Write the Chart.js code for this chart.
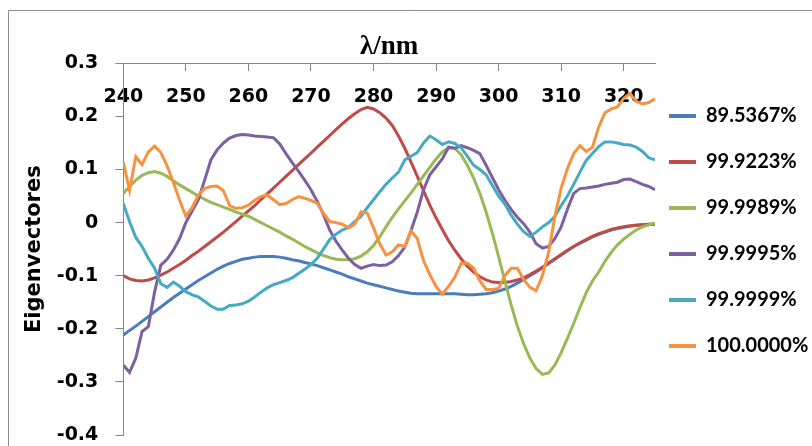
<!DOCTYPE html>
<html>
<head>
<meta charset="utf-8">
<script src="https://cdn.jsdelivr.net/npm/chart.js@4.4.1/dist/chart.umd.min.js"></script>
<style>
html,body{margin:0;padding:0;background:#fff;}
canvas{display:block;}
</style>
</head>
<body>
<canvas id="c" width="812" height="446"></canvas>
<script>
const wavelengths = [
  240,241,242,243,244,245,246,247,248,249,
  250,251,252,253,254,255,256,257,258,259,
  260,261,262,263,264,265,266,267,268,269,
  270,271,272,273,274,275,276,277,278,279,
  280,281,282,283,284,285,286,287,288,289,
  290,291,292,293,294,295,296,297,298,299,
  300,301,302,303,304,305,306,307,308,309,
  310,311,312,313,314,315,316,317,318,319,
  320,321,322,323,324,325
];

const seriesLabels = ['89.5367%', '99.9223%', '99.9989%', '99.9995%', '99.9999%', '100.0000%'];

const ev895367 = [
  -0.212,-0.203,-0.195,-0.186,-0.177,-0.168,-0.159,-0.150,-0.141,-0.133,
  -0.125,-0.117,-0.109,-0.102,-0.095,-0.088,-0.082,-0.077,-0.073,-0.069,
  -0.067,-0.065,-0.064,-0.064,-0.064,-0.065,-0.067,-0.070,-0.072,-0.075,
  -0.078,-0.081,-0.085,-0.089,-0.093,-0.097,-0.102,-0.106,-0.110,-0.114,
  -0.117,-0.120,-0.123,-0.126,-0.129,-0.131,-0.133,-0.134,-0.134,-0.134,
  -0.134,-0.134,-0.134,-0.134,-0.135,-0.136,-0.136,-0.135,-0.134,-0.132,
  -0.129,-0.125,-0.120,-0.114,-0.107,-0.100,-0.093,-0.085,-0.077,-0.069,
  -0.061,-0.053,-0.045,-0.039,-0.033,-0.027,-0.022,-0.018,-0.014,-0.011,
  -0.009,-0.007,-0.005,-0.004,-0.003,-0.003
];

const ev999223 = [
  -0.100,-0.106,-0.109,-0.110,-0.108,-0.104,-0.099,-0.093,-0.086,-0.079,
  -0.071,-0.062,-0.054,-0.045,-0.036,-0.027,-0.018,-0.008,0.002,0.012,
  0.022,0.032,0.043,0.054,0.065,0.076,0.087,0.098,0.109,0.120,
  0.131,0.142,0.153,0.164,0.175,0.186,0.196,0.205,0.213,0.217,
  0.214,0.207,0.197,0.183,0.163,0.140,0.114,0.087,0.060,0.033,
  0.009,-0.013,-0.034,-0.052,-0.068,-0.082,-0.093,-0.102,-0.108,-0.112,
  -0.113,-0.113,-0.111,-0.108,-0.104,-0.098,-0.091,-0.084,-0.076,-0.068,
  -0.060,-0.052,-0.045,-0.038,-0.032,-0.026,-0.021,-0.017,-0.013,-0.010,
  -0.008,-0.006,-0.005,-0.004,-0.003,-0.003
];

const ev999989 = [
  0.055,0.068,0.080,0.089,0.094,0.096,0.093,0.087,0.079,0.071,
  0.064,0.057,0.050,0.044,0.038,0.034,0.029,0.025,0.020,0.016,
  0.012,0.006,0.000,-0.006,-0.012,-0.018,-0.025,-0.031,-0.038,-0.045,
  -0.051,-0.057,-0.062,-0.066,-0.069,-0.070,-0.070,-0.068,-0.063,-0.055,
  -0.043,-0.027,-0.008,0.010,0.026,0.041,0.056,0.072,0.088,0.104,
  0.120,0.133,0.141,0.140,0.128,0.108,0.084,0.055,0.020,-0.020,
  -0.064,-0.110,-0.155,-0.195,-0.228,-0.255,-0.275,-0.286,-0.283,-0.268,
  -0.245,-0.218,-0.190,-0.160,-0.132,-0.110,-0.093,-0.073,-0.056,-0.042,
  -0.031,-0.022,-0.014,-0.008,-0.004,-0.001
];

const ev999995 = [
  -0.268,-0.282,-0.255,-0.205,-0.196,-0.131,-0.080,-0.069,-0.052,-0.030,
  0.000,0.022,0.043,0.080,0.118,0.137,0.150,0.159,0.164,0.166,
  0.165,0.163,0.162,0.161,0.160,0.148,0.130,0.113,0.097,0.080,
  0.062,0.040,0.015,-0.014,-0.035,-0.052,-0.067,-0.079,-0.086,-0.082,
  -0.079,-0.081,-0.080,-0.074,-0.062,-0.046,-0.015,0.020,0.062,0.090,
  0.105,0.120,0.142,0.140,0.145,0.141,0.136,0.130,0.108,0.085,
  0.062,0.042,0.025,0.010,-0.002,-0.018,-0.040,-0.048,-0.045,-0.030,
  -0.008,0.025,0.055,0.064,0.065,0.067,0.069,0.072,0.074,0.076,
  0.081,0.082,0.077,0.072,0.068,0.062
];

const ev999999 = [
  0.036,0.002,-0.028,-0.045,-0.067,-0.086,-0.115,-0.122,-0.112,-0.120,
  -0.130,-0.136,-0.140,-0.148,-0.157,-0.163,-0.163,-0.156,-0.155,-0.153,
  -0.148,-0.140,-0.131,-0.123,-0.117,-0.113,-0.109,-0.104,-0.096,-0.088,
  -0.079,-0.067,-0.050,-0.032,-0.022,-0.014,-0.009,0.002,0.012,0.028,
  0.043,0.058,0.072,0.084,0.095,0.118,0.125,0.132,0.150,0.163,
  0.156,0.147,0.152,0.149,0.141,0.125,0.108,0.100,0.090,0.070,
  0.050,0.035,0.014,-0.003,-0.017,-0.026,-0.018,-0.008,0.000,0.012,
  0.032,0.050,0.072,0.095,0.117,0.130,0.143,0.152,0.152,0.150,
  0.147,0.146,0.142,0.134,0.122,0.118
];

const ev1000000 = [
  0.114,0.061,0.124,0.109,0.133,0.144,0.132,0.107,0.076,0.042,
  0.012,0.028,0.052,0.064,0.068,0.069,0.060,0.032,0.027,0.028,
  0.033,0.042,0.049,0.052,0.043,0.034,0.036,0.043,0.049,0.046,
  0.042,0.036,0.018,0.002,0.000,-0.003,-0.010,-0.003,0.020,0.018,
  -0.010,-0.040,-0.061,-0.055,-0.042,-0.045,-0.016,-0.030,-0.072,-0.098,
  -0.120,-0.135,-0.120,-0.103,-0.077,-0.076,-0.086,-0.110,-0.126,-0.126,
  -0.124,-0.100,-0.086,-0.086,-0.107,-0.122,-0.128,-0.100,-0.055,0.012,
  0.065,0.102,0.130,0.145,0.134,0.142,0.180,0.207,0.214,0.218,
  0.234,0.243,0.228,0.224,0.226,0.233
];

const seriesValues = [ev895367, ev999223, ev999989, ev999995, ev999999, ev1000000];
const seriesColors = ['#4A7EBB', '#BE4B48', '#98B954', '#7D60A0', '#46AAC5', '#F69240'];

const datasets = seriesLabels.map((label, i) => ({
  label: label,
  data: wavelengths.map((w, j) => ({x: w, y: seriesValues[i][j]})),
  xAxisID: 'x',
  yAxisID: 'y',
  borderColor: seriesColors[i],
  backgroundColor: seriesColors[i],
  borderWidth: 3,
  pointRadius: 0,
  tension: 0,
  fill: false,
  order: seriesLabels.length - i
}));

const framePlugin = {
  id: 'frame',
  beforeDraw(chart) {
    const ctx = chart.ctx;
    ctx.save();
    ctx.fillStyle = '#ffffff';
    ctx.fillRect(0, 0, chart.width, chart.height);
    ctx.strokeStyle = '#8c8c8c';
    ctx.lineWidth = 1;
    ctx.beginPath();
    ctx.moveTo(8.5, chart.height);
    ctx.lineTo(8.5, 10.5);
    ctx.lineTo(chart.width, 10.5);
    ctx.stroke();
    ctx.restore();
  }
};

const tickFont = { family: 'DejaVu Sans', size: 19, weight: 'bold', lineHeight: 1.2 };

new Chart(document.getElementById('c'), {
  type: 'line',
  data: { datasets: datasets },
  plugins: [framePlugin],
  options: {
    responsive: false,
    animation: false,
    devicePixelRatio: 1,
    layout: { padding: { top: 39, left: 0, right: 0, bottom: 11 } },
    plugins: {
      tooltip: { enabled: false },
      legend: {
        position: 'right',
        align: 'center',
        maxWidth: 157,
        labels: {
          boxWidth: 27,
          boxHeight: 4,
          padding: 14,
          color: '#000',
          font: { family: 'Lato', size: 20, weight: 'bold', lineHeight: 1.6 },
          sort: (a, b) => a.datasetIndex - b.datasetIndex,
          generateLabels: (chart) => Chart.defaults.plugins.legend.labels.generateLabels(chart)
            .map(l => Object.assign(l, { text: [l.text], lineWidth: 0 }))
        }
      }
    },
    scales: {
      x: {
        type: 'linear',
        position: 'top',
        min: 240,
        max: 325,
        afterFit: (s) => { s.height = 24.3; s.paddingLeft = 0; s.paddingRight = 0; },
        ticks: { display: false, stepSize: 10, includeBounds: false },
        grid: { display: false, drawOnChartArea: false, drawTicks: false },
        border: { display: true, color: '#868686', width: 1 },
        title: {
          display: true,
          text: 'λ/nm',
          color: '#000',
          font: { family: 'Liberation Serif', size: 27, weight: 'bold' },
          padding: { top: -8, bottom: 0 }
        }
      },
      x2: {
        type: 'linear',
        position: { y: 0.3 },
        min: 240,
        max: 325,
        afterFit: (s) => { s.paddingLeft = 0; s.paddingRight = 0; },
        ticks: {
          stepSize: 10,
          includeBounds: false,
          autoSkip: false,
          maxRotation: 0,
          padding: 14.6,
          color: '#000',
          font: tickFont
        },
        grid: { drawOnChartArea: false, drawTicks: true, tickLength: 8, color: '#868686' },
        border: { display: false }
      },
      y: {
        type: 'linear',
        position: 'left',
        min: -0.4,
        max: 0.3,
        afterFit: (s) => { s.width = 123.3; s.paddingTop = 0; s.paddingBottom = 0; },
        ticks: {
          stepSize: 0.1,
          padding: 17,
          color: '#000',
          font: tickFont,
          callback: (v) => String(Math.round(v * 10) / 10)
        },
        grid: { drawOnChartArea: false, tickLength: 8, color: '#868686' },
        border: { color: '#868686', width: 1 },
        title: {
          display: true,
          text: 'Eigenvectores',
          color: '#000',
          font: { family: 'DejaVu Sans', size: 21, weight: 'bold' },
          padding: { top: 22, bottom: 0 }
        }
      }
    }
  }
});
</script>
</body>
</html>
